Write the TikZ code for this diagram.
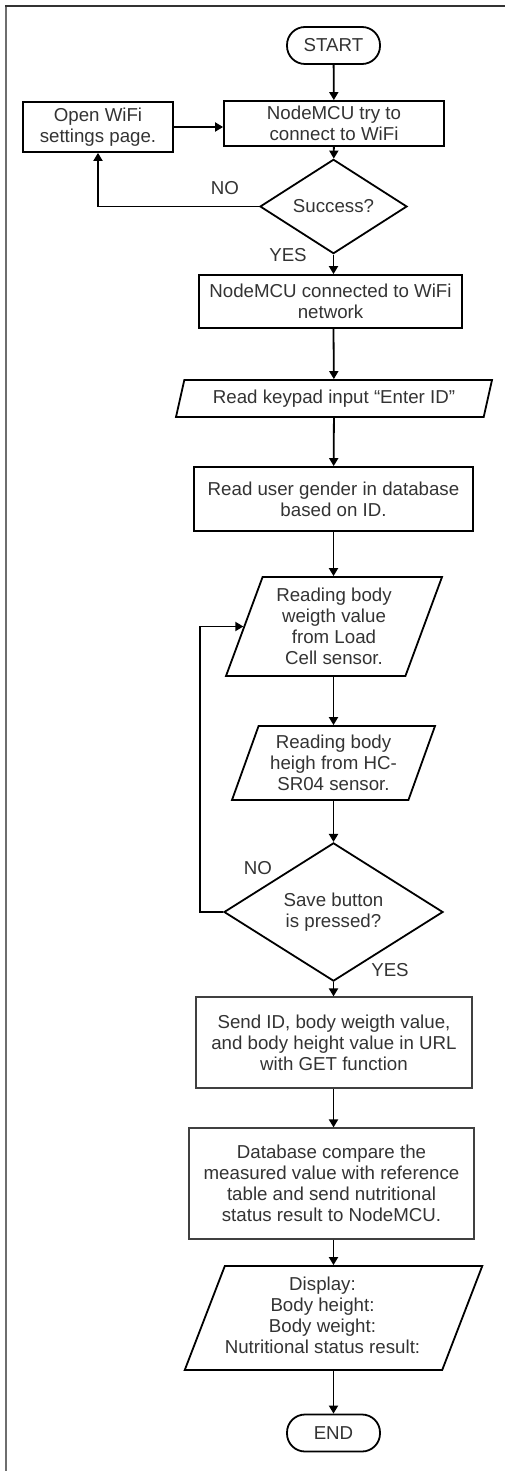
\documentclass[tikz,border=0pt]{standalone}
\usepackage{fontspec}
\setmainfont{Liberation Sans}
\usetikzlibrary{shapes.geometric,arrows.meta}

\definecolor{txtgray}{HTML}{333333}
\definecolor{framegray}{HTML}{6E6E6E}

\tikzset{
  base/.style={font=\fontsize{18.7}{21}\selectfont, text=txtgray, align=center, inner sep=0pt},
  terminal/.style={base, draw, line width=1.8pt, rounded corners=18pt, minimum width=93pt, minimum height=37pt},
  process/.style={base, draw, rectangle, line width=1.8pt},
  thinprocess/.style={base, draw=black!75, rectangle, line width=1.2pt},
  io/.style={base, draw, trapezium, trapezium left angle=64.5, trapezium right angle=115.5,
    trapezium stretches body, line width=1.8pt},
  decision/.style={base, draw, diamond, line width=1.8pt},
  arrow/.style={-{Triangle[length=8pt,width=9pt]}, line width=1.8pt},
  lbl/.style={base}
}

\begin{document}
\begin{tikzpicture}[x=1pt,y=-1pt]
\useasboundingbox (0,0) rectangle (505,1471);

% frame
\draw[framegray, line width=2pt] (6,1471) -- (6,6);
\draw[txtgray, line width=2pt] (5,6) -- (505,6);

% nodes
\node[terminal] (start) at (333.5,45.5) {START};
\node[process, minimum width=150pt, minimum height=50pt] (open) at (98,127) {Open WiFi\\settings page.};
\node[process, minimum width=220pt, minimum height=45pt] (try) at (334,123.5) {NodeMCU try to\\connect to WiFi};
\node[decision, minimum width=147pt, minimum height=73pt] (success) at (333.5,206.5) {Success?};
\node[process, minimum width=263pt, minimum height=53pt] (conn) at (330.5,301.5) {NodeMCU connected to WiFi\\network};
\node[io, minimum width=316pt, minimum height=37pt] (keypad) at (334,398.5) {Read keypad input “Enter ID”};
\node[process, minimum width=279pt, minimum height=64pt] (gender) at (333.5,499) {Read user gender in database\\based on ID.};
\node[io, minimum width=216pt, minimum height=99pt] (weight) at (334,626.5) {Reading body\\weigth value\\from Load\\Cell sensor.};
\node[io, minimum width=203pt, minimum height=74pt] (height) at (333.5,763) {Reading body\\heigh from HC-\\SR04 sensor.};
\node[decision, minimum width=219pt, minimum height=98pt] (save) at (333.5,912) {Save button\\is pressed?};
\node[thinprocess, minimum width=276pt, minimum height=91pt] (send) at (334,1042.5) {Send ID, body weigth value,\\and body height value in URL\\with GET function};
\node[thinprocess, minimum width=285pt, minimum height=111pt] (db) at (331.5,1183.5) {Database compare the\\measured value with reference\\table and send nutritional\\status result to NodeMCU.};
\node[io, minimum width=287pt, minimum height=104pt] (display) at (333.5,1318) {\begin{tabular}{@{}c@{}}Display:\\Body height:\\Body weight:\\Nutritional status result:\end{tabular}\hspace*{22pt}};
\node[terminal] (end) at (333.5,1433) {END};

% labels
\node[lbl] (no1) at (225,188) {NO};
\node[lbl] (yes1) at (288,255) {YES};
\node[lbl] (no2) at (258,868) {NO};
\node[lbl] (yes2) at (390,970) {YES};

\coordinate (loop) at (200,912);

% connectors
\draw[arrow] (start) -- (try);
\draw[arrow] (open.east) -- (open.east -| try.west);
\draw[arrow] (try) -- (success);
\draw[arrow] (success.west) -| (open.south);
\draw[arrow] (success) -- (success.south |- conn.north);
\draw[arrow] (conn.south -| start) -- (keypad);
\draw[arrow] (keypad) -- (gender);
\draw[arrow] (gender.south -| start) -- (weight.north -| start);
\draw[arrow] (weight.south -| start) -- (height.north -| start);
\draw[arrow] (height.south -| start) -- (save);
\draw[arrow] (save.west) -- (loop) |- (weight.west);
\draw[arrow] (save) -- (save.south |- send.north);
\draw[arrow] (send.south -| start) -- (db.north -| start);
\draw[arrow] (db.south -| start) -- (display.north -| start);
\draw[arrow] (display.south -| start) -- (end);
\end{tikzpicture}
\end{document}
